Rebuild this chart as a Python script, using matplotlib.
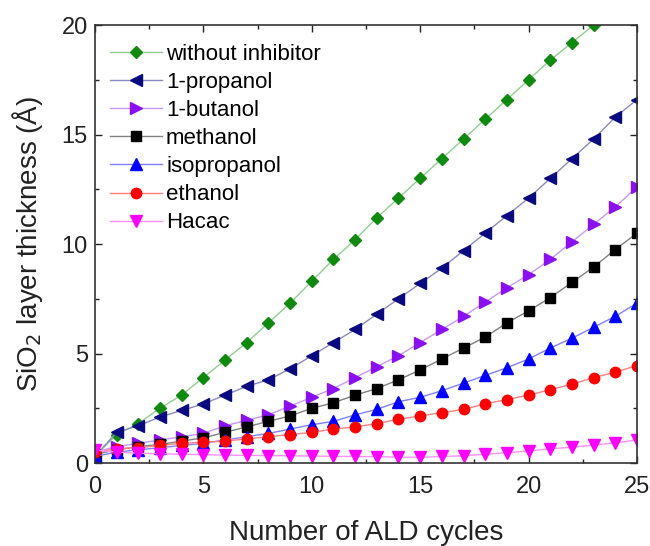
import numpy as np
import matplotlib.pyplot as plt

plt.rcParams['font.family'] = ['Liberation Sans', 'DejaVu Sans']

cycles = list(range(26))

without_inhibitor = [0.3, 1.3, 1.8, 2.5, 3.1, 3.9, 4.7, 5.5, 6.4, 7.3, 8.3, 9.3, 10.2, 11.2, 12.1,
                     13.0, 13.9, 14.8, 15.7, 16.6, 17.5, 18.4, 19.2, 20.0, 20.9, 21.8]
propanol_1 = [0.3, 1.4, 1.7, 2.1, 2.4, 2.7, 3.1, 3.5, 3.8, 4.3, 4.9, 5.5, 6.1, 6.8, 7.5,
              8.2, 8.9, 9.7, 10.5, 11.3, 12.1, 13.0, 13.9, 14.8, 15.8, 16.6]
butanol_1 = [0.5, 0.75, 0.9, 1.05, 1.2, 1.35, 1.7, 1.95, 2.2, 2.6, 3.0, 3.4, 3.9, 4.4, 4.9,
             5.5, 6.1, 6.7, 7.35, 8.0, 8.6, 9.3, 10.1, 10.9, 11.7, 12.6]
methanol = [0.4, 0.6, 0.75, 0.85, 1.0, 1.15, 1.4, 1.65, 1.9, 2.15, 2.5, 2.75, 3.1, 3.4, 3.8,
            4.25, 4.75, 5.25, 5.75, 6.4, 6.95, 7.55, 8.25, 8.95, 9.75, 10.5]
isopropanol = [0.3, 0.5, 0.6, 0.7, 0.8, 0.9, 1.05, 1.2, 1.35, 1.55, 1.75, 1.9, 2.2, 2.45, 2.8,
               3.0, 3.3, 3.65, 4.0, 4.35, 4.75, 5.25, 5.7, 6.2, 6.7, 7.3]
ethanol = [0.5, 0.65, 0.7, 0.8, 0.9, 0.95, 1.0, 1.1, 1.2, 1.3, 1.4, 1.55, 1.65, 1.8, 2.0,
           2.15, 2.3, 2.45, 2.7, 2.9, 3.1, 3.35, 3.6, 3.9, 4.15, 4.45]
hacac = [0.6, 0.5, 0.45, 0.42, 0.4, 0.38, 0.36, 0.35, 0.34, 0.33, 0.32, 0.3, 0.3, 0.29, 0.27,
         0.26, 0.3, 0.33, 0.4, 0.47, 0.55, 0.65, 0.72, 0.82, 0.92, 1.05]

series = [
    ('without inhibitor', without_inhibitor, 'D', '#0f8a0f', '#8fcf8f', 6.5),
    ('1-propanol', propanol_1, '<', '#0a0a80', '#8a8ac0', 8),
    ('1-butanol', butanol_1, '>', '#8a10f0', '#c898f8', 8),
    ('methanol', methanol, 's', '#000000', '#808080', 7),
    ('isopropanol', isopropanol, '^', '#0000ff', '#8080ff', 8),
    ('ethanol', ethanol, 'o', '#ff0000', '#ff8080', 7.5),
    ('Hacac', hacac, 'v', '#ff00ff', '#ff90ff', 8),
]

fig = plt.figure(figsize=(6.5, 5.46), dpi=100)
ax = fig.add_axes([0.146, 0.152, 0.834, 0.802])

for label, vals, mk, dark, light, ms in series:
    ax.plot(cycles, vals, color=light, lw=1.0, marker=mk, markersize=ms,
            markerfacecolor=dark, markeredgecolor=dark, label=label)

ax.set_xlim(0, 25)
ax.set_ylim(0, 20)
ax.set_xticks([0, 5, 10, 15, 20, 25])
ax.set_yticks([0, 5, 10, 15, 20])
ax.set_xticks(np.arange(0, 25.1, 2.5), minor=True)
ax.set_yticks(np.arange(0, 20.1, 2.5), minor=True)
ax.tick_params(which='both', direction='in', top=True, right=True, labelsize=17,
               colors='#222222')
ax.tick_params(axis='x', which='major', pad=9)
ax.tick_params(axis='y', which='major', pad=5)
ax.tick_params(which='major', length=5, width=1)
ax.tick_params(which='minor', length=3, width=1)
for s in ax.spines.values():
    s.set_color('#333333')
    s.set_linewidth(1.2)

ax.set_xlabel('Number of ALD cycles', fontsize=20, labelpad=16, color='#222222')
ax.set_ylabel('SiO$_2$ layer thickness (Å)', fontsize=20, labelpad=12, color='#222222')

ax.legend(loc='upper left', frameon=False, fontsize=16, handlelength=2.3,
          labelspacing=0.32, borderaxespad=0.4, handletextpad=0.2,
          borderpad=0.3, bbox_to_anchor=(0.0, 0.993))

fig.savefig('out.png', dpi=100)
